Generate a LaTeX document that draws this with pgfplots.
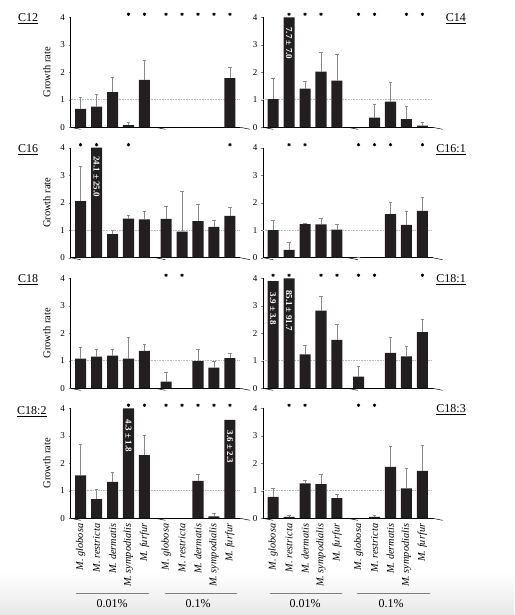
\documentclass[border=0pt]{standalone}
\usepackage{fontspec}
\setmainfont{Liberation Serif}
\usepackage{pgfplots}
\pgfplotsset{compat=1.18}
\definecolor{barc}{HTML}{231F20}
\definecolor{errc}{HTML}{8A8A8A}
\pgfplotsset{
 panel/.style={
  scale only axis, width=169.5pt, height=110pt, anchor=south west,
  xmin=-0.63, xmax=9.98, ymin=0, ymax=4,
  axis x line*=bottom, axis y line*=left,
  axis line style={line width=0.5pt},
  ytick={0,1,2,3,4}, tick align=outside, major tick length=2pt,
  xtick={0,1,2,3,4,5.35,6.35,7.35,8.35,9.35}, xticklabels={},
  xtick style={draw=none},
  clip=false,
  /pgf/number format/assume math mode=true,
  yticklabel style={font=\fontsize{9}{10}\selectfont},
  ylabel style={font=\fontsize{10.5}{12}\selectfont, at={(axis description cs:-0.14,0.5)}, anchor=center},
  xticklabel style={rotate=90, anchor=east, font=\fontsize{10.3}{12}\selectfont\itshape},
 },
 bars/.style={ybar, bar width=0.69, fill=barc, draw=none},
 errs/.style={ybar, bar width=0.69, fill=none, draw=none, forget plot,
   error bars/.cd, y dir=plus, y explicit,
   error bar style={draw=errc, line width=0.6pt, solid},
   error mark options={rotate=90, draw=errc, mark size=1.8pt, line width=0.6pt}},
 stars/.style={only marks, mark=asterisk, mark size=1.6pt, mark options={line width=0.8pt, black}},
}
\newcommand{\deco}{%
 \draw[gray!55, densely dotted, line width=0.6pt] (axis cs:-0.63,1) -- (axis cs:9.98,1);
 \draw[line width=0.5pt] (axis cs:-0.63,0) -- ++(0,-2pt) (axis cs:4.675,0) -- ++(0,-2pt) (axis cs:9.98,0) -- ++(0,-2pt);
}
\newcommand{\intext}[3]{\node[rotate=-90, text=white, font=\fontsize{9}{10}\selectfont\bfseries] at (axis cs:#1,#2) {#3};}
\newcommand{\species}{M. globosa, M. restricta, M. dermatis, M. sympodialis, M. furfur, M. globosa, M. restricta, M. dermatis, M. sympodialis, M. furfur}
\begin{document}
\begin{tikzpicture}
\useasboundingbox (0,0) rectangle (514pt,615pt);
\shade[top color=white, bottom color=black!9] (0pt,0pt) rectangle (514pt,43pt);

% ---------- C12 ----------
\begin{axis}[panel, at={(70.5pt,487.7pt)}, ylabel={Growth rate}]
\deco
\addplot[bars] coordinates {(0,0.67) (1,0.75) (2,1.28) (3,0.08) (4,1.72) (5.35,0) (6.35,0) (7.35,0) (8.35,0) (9.35,1.79)};
\addplot[errs] coordinates {(0,0.67) +- (0,0.42) (1,0.75) +- (0,0.44) (2,1.28) +- (0,0.54) (3,0.08) +- (0,0.10) (4,1.72) +- (0,0.72) (9.35,1.79) +- (0,0.39)};
\addplot[stars] coordinates {(3,4.11) (4,4.11) (5.35,4.11) (6.35,4.11) (7.35,4.11) (8.35,4.11) (9.35,4.11)};
\end{axis}

% ---------- C14 ----------
\begin{axis}[panel, at={(263pt,487.7pt)}]
\deco
\addplot[bars] coordinates {(0,1.02) (1,4) (2,1.41) (3,2.02) (4,1.70) (5.35,0) (6.35,0.35) (7.35,0.93) (8.35,0.30) (9.35,0.06)};
\addplot[errs] coordinates {(0,1.02) +- (0,0.76) (2,1.41) +- (0,0.27) (3,2.02) +- (0,0.71) (4,1.70) +- (0,0.97) (6.35,0.35) +- (0,0.49) (7.35,0.93) +- (0,0.72) (8.35,0.30) +- (0,0.48) (9.35,0.06) +- (0,0.11)};
\addplot[stars] coordinates {(1,4.11) (2,4.11) (3,4.11) (5.35,4.11) (6.35,4.11) (8.35,4.11) (9.35,4.11)};
\intext{1}{3.05}{7.7 ± 7.0}
\end{axis}

% ---------- C16 ----------
\begin{axis}[panel, at={(70.5pt,357.3pt)}, ylabel={Growth rate}]
\deco
\addplot[bars] coordinates {(0,2.06) (1,4) (2,0.86) (3,1.42) (4,1.39) (5.35,1.41) (6.35,0.95) (7.35,1.33) (8.35,1.12) (9.35,1.52)};
\addplot[errs] coordinates {(0,2.06) +- (0,1.27) (2,0.86) +- (0,0.14) (3,1.42) +- (0,0.12) (4,1.39) +- (0,0.31) (5.35,1.41) +- (0,0.47) (6.35,0.95) +- (0,1.45) (7.35,1.33) +- (0,0.61) (8.35,1.12) +- (0,0.24) (9.35,1.52) +- (0,0.30)};
\addplot[stars] coordinates {(0,4.11) (1,4.11) (3,4.11) (9.35,4.11)};
\intext{1}{2.95}{24.1 ± 25.0}
\end{axis}

% ---------- C16:1 ----------
\begin{axis}[panel, at={(263pt,357.3pt)}]
\deco
\addplot[bars] coordinates {(0,1.00) (1,0.28) (2,1.22) (3,1.21) (4,1.02) (5.35,0.02) (6.35,0) (7.35,1.58) (8.35,1.19) (9.35,1.70)};
\addplot[errs] coordinates {(0,1.00) +- (0,0.36) (1,0.28) +- (0,0.29) (2,1.22) +- (0,0.03) (3,1.21) +- (0,0.24) (4,1.02) +- (0,0.19) (5.35,0.02) +- (0,0.01) (7.35,1.58) +- (0,0.42) (8.35,1.19) +- (0,0.51) (9.35,1.70) +- (0,0.50)};
\addplot[stars] coordinates {(1,4.11) (2,4.11) (5.35,4.11) (6.35,4.11) (7.35,4.11) (9.35,4.11)};
\end{axis}

% ---------- C18 ----------
\begin{axis}[panel, at={(70.5pt,226.7pt)}, ylabel={Growth rate}]
\deco
\addplot[bars] coordinates {(0,1.08) (1,1.15) (2,1.19) (3,1.08) (4,1.36) (5.35,0.24) (6.35,0) (7.35,0.99) (8.35,0.75) (9.35,1.10)};
\addplot[errs] coordinates {(0,1.08) +- (0,0.41) (1,1.15) +- (0,0.27) (2,1.19) +- (0,0.23) (3,1.08) +- (0,0.77) (4,1.36) +- (0,0.24) (5.35,0.24) +- (0,0.33) (7.35,0.99) +- (0,0.44) (8.35,0.75) +- (0,0.24) (9.35,1.10) +- (0,0.17)};
\addplot[stars] coordinates {(5.35,4.11) (6.35,4.11)};
\end{axis}

% ---------- C18:1 ----------
\begin{axis}[panel, at={(263pt,226.7pt)}]
\deco
\addplot[bars] coordinates {(0,3.90) (1,4) (2,1.23) (3,2.82) (4,1.76) (5.35,0.42) (6.35,0) (7.35,1.29) (8.35,1.16) (9.35,2.04)};
\addplot[errs] coordinates {(2,1.23) +- (0,0.32) (3,2.82) +- (0,0.54) (4,1.76) +- (0,0.58) (5.35,0.42) +- (0,0.37) (7.35,1.29) +- (0,0.55) (8.35,1.16) +- (0,0.37) (9.35,2.04) +- (0,0.48)};
\addplot[stars] coordinates {(0,4.11) (1,4.11) (3,4.11) (4,4.11) (5.35,4.11) (6.35,4.11) (9.35,4.11)};
\intext{0}{2.9}{3.9 ± 3.8}
\intext{1}{2.83}{85.1 ± 91.7}
\end{axis}

% ---------- C18:2 ----------
\begin{axis}[panel, at={(70.5pt,96.7pt)}, ylabel={Growth rate}, xticklabels/.expand once={\species}]
\deco
\addplot[bars] coordinates {(0,1.56) (1,0.70) (2,1.32) (3,4) (4,2.30) (5.35,0) (6.35,0) (7.35,1.36) (8.35,0.07) (9.35,3.58)};
\addplot[errs] coordinates {(0,1.56) +- (0,1.14) (1,0.70) +- (0,0.35) (2,1.32) +- (0,0.35) (4,2.30) +- (0,0.73) (7.35,1.36) +- (0,0.24) (8.35,0.07) +- (0,0.11)};
\addplot[stars] coordinates {(3,4.11) (4,4.11) (5.35,4.11) (6.35,4.11) (7.35,4.11) (8.35,4.11) (9.35,4.11)};
\intext{3}{3.0}{4.3 ± 1.8}
\intext{9.35}{2.6}{3.6 ± 2.3}
\end{axis}

% ---------- C18:3 ----------
\begin{axis}[panel, at={(263pt,96.7pt)}, xticklabels/.expand once={\species}]
\deco
\addplot[bars] coordinates {(0,0.78) (1,0.05) (2,1.27) (3,1.24) (4,0.73) (5.35,0) (6.35,0.05) (7.35,1.87) (8.35,1.09) (9.35,1.72)};
\addplot[errs] coordinates {(0,0.78) +- (0,0.31) (1,0.05) +- (0,0.05) (2,1.27) +- (0,0.11) (3,1.24) +- (0,0.36) (4,0.73) +- (0,0.15) (6.35,0.05) +- (0,0.05) (7.35,1.87) +- (0,0.74) (8.35,1.09) +- (0,0.74) (9.35,1.72) +- (0,0.95)};
\addplot[stars] coordinates {(1,4.11) (2,4.11) (5.35,4.11) (6.35,4.11)};
\end{axis}

% ---------- panel labels ----------
\begin{scope}[every node/.style={font=\fontsize{12}{14}\selectfont, inner sep=0pt}]
\node[anchor=west] at (18pt,596pt) {\underline{C12}};
\node[anchor=west] at (18pt,465pt) {\underline{C16}};
\node[anchor=west] at (18pt,335pt) {\underline{C18}};
\node[anchor=west] at (17pt,203pt) {\underline{C18:2}};
\node[anchor=east] at (466pt,596pt) {\underline{C14}};
\node[anchor=east] at (466pt,465pt) {\underline{C16:1}};
\node[anchor=east] at (466pt,335pt) {\underline{C18:1}};
\node[anchor=east] at (466pt,205pt) {\underline{C18:3}};
\end{scope}

% ---------- group labels ----------
\begin{scope}[every node/.style={font=\fontsize{12}{14}\selectfont}]
\draw[gray, line width=0.7pt] (76pt,22pt) -- (149pt,22pt);
\draw[gray, line width=0.7pt] (165pt,22pt) -- (237pt,22pt);
\draw[gray, line width=0.7pt] (270pt,22pt) -- (342pt,22pt);
\draw[gray, line width=0.7pt] (357pt,22pt) -- (430pt,22pt);
\node at (112pt,11pt) {0.01\%};
\node at (198pt,11pt) {0.1\%};
\node at (305pt,11pt) {0.01\%};
\node at (391pt,11pt) {0.1\%};
\end{scope}
\end{tikzpicture}
\end{document}
